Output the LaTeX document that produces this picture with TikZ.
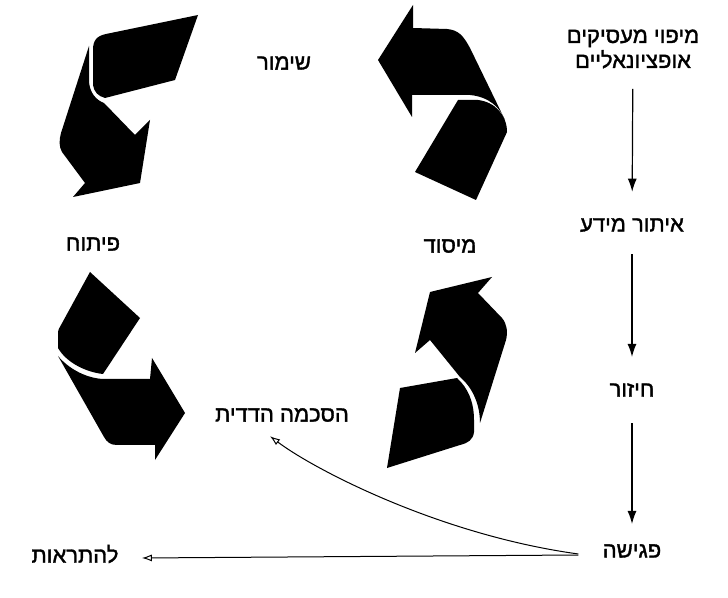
\documentclass[tikz,border=0pt]{standalone}
\usepackage{fontspec}
\usetikzlibrary{arrows.meta}
\TeXXeTstate=1
\newfontfamily\hebfont[Script=Hebrew,FakeBold=1.5]{Liberation Sans}

\begin{document}
\begin{tikzpicture}[x=.5pt,y=-.5pt,>=Latex,
  ribbon/.style={fill=black},
  heb/.style={font=\hebfont\fontsize{11}{12.5}\selectfont,inner sep=0pt,align=center},
  flow/.style={-{Latex[length=6.5pt,width=4.5pt]},line width=.6pt},
  reply/.style={-{Latex[open,length=5pt,width=3.5pt]},line width=.5pt}]
 \useasboundingbox (0,0) rectangle (728,598);
 % the four ribbons of the cycle
 \fill[ribbon] (198,15) -- (175,80) -- (105,98) .. controls (98,96) and (94,92) .. (93,85)
    -- (93,50) .. controls (93,40) and (97,36) .. (106,34) -- cycle;
 \fill[ribbon] (89,46) -- (89,82) .. controls (90,93) and (96,100) .. (104,103)
    -- (135,135) -- (150,120) -- (140,183) -- (73,197) -- (85,183)
    -- (62,152) .. controls (59,147) and (59,140) .. (61,133) -- cycle;
 \fill[ribbon] (378,60) -- (413,5) -- (413,28) -- (447,29)
    .. controls (458,30) and (463,35) .. (470,48) -- (505,120)
    .. controls (500,108) and (490,97) .. (470,95) -- (412,95)
    -- (412,117) -- cycle;
 \fill[ribbon] (458,100) -- (478,100) .. controls (495,102) and (507,115) .. (507,132)
    -- (476,200) -- (415,172) -- cycle;
 \fill[ribbon] (90,272) -- (140,318) -- (103,374)
    .. controls (85,372) and (66,362) .. (58,348) -- (58,334)
    .. controls (58,330) and (59,328) .. (61,325) -- cycle;
 \fill[ribbon] (58,356) .. controls (68,368) and (85,378) .. (103,379)
    -- (150,379) -- (152,358) -- (185,413) -- (155,460) -- (155,445)
    -- (117,445) .. controls (110,445) and (107,442) .. (104,437) -- cycle;
 \fill[ribbon] (415,353) -- (430,292) -- (492,277) -- (478,293) -- (502,318)
    .. controls (507,324) and (508,332) .. (506,340) -- (480,423)
    .. controls (480,405) and (473,388) .. (460,377) -- (430,340) -- cycle;
 \fill[ribbon] (400,388) -- (457,378) .. controls (468,388) and (474,402) .. (474,420)
    -- (474,432) .. controls (473,440) and (468,443) .. (460,445)
    -- (387,468) -- cycle;
 % stages of the cycle
 \node[heb] (preserve) at (284,63) {\beginR שימור\endR};
 \node[heb] (develop) at (93,244) {\beginR פיתוח\endR};
 \node[heb] (found) at (450,246) {\beginR מיסוד\endR};
 \node[heb] (agree) at (282,415) {\beginR הסכמה הדדית\endR};
 % the steps on the right
 \node[heb] (map) at (633,49) {\beginR מיפוי מעסיקים\endR\\\beginR אופציונאליים\endR};
 \node[heb] (locate) at (632,225) {\beginR איתור מידע\endR};
 \node[heb] (court) at (632,390) {\beginR חיזור\endR};
 \node[heb] (meet) at (632,551) {\beginR פגישה\endR};
 \node[heb] (farewell) at (75,554) {\beginR להתראות\endR};
 \draw[flow,shorten <=10pt,shorten >=13pt] (map) -- (locate);
 \draw[flow,shorten <=11pt,shorten >=13pt] (locate) -- (court);
 \draw[flow,shorten <=13pt,shorten >=10pt] (court) -- (meet);
 \draw[reply] ([shift={(-24,4)}]meet.west) -- ([shift={(23,4)}]farewell.east);
 \draw[reply] ([shift={(-24,3)}]meet.west) .. controls (440,535) and (315,470)
    .. ([shift={(-12,14)}]agree.south);
\end{tikzpicture}
\end{document}
